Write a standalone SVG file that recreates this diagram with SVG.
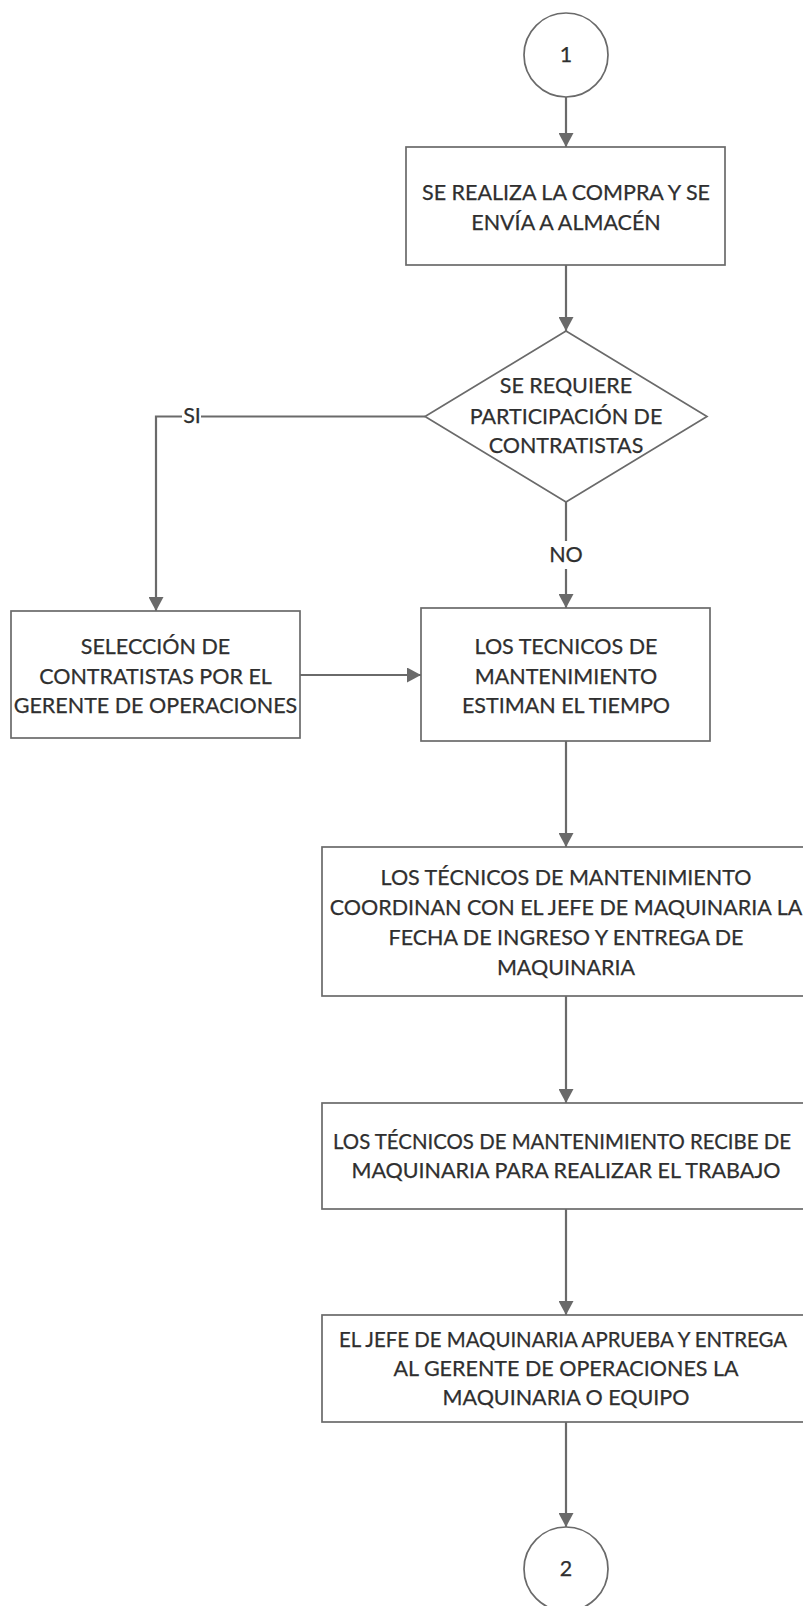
<svg xmlns="http://www.w3.org/2000/svg" width="803" height="1606" viewBox="0 0 803 1606">
  <defs>
    <marker id="arrow" viewBox="0 0 14 15" refX="14" refY="7.5" markerWidth="14" markerHeight="15" markerUnits="userSpaceOnUse" orient="auto">
      <path d="M0,0 L14,7.5 L0,15 Z" fill="#6a6a6a"/>
    </marker>
    <style>
      .shape { fill: #ffffff; stroke: #6a6a6a; stroke-width: 1.7; }
      .edge { fill: none; stroke: #6a6a6a; stroke-width: 2.2; marker-end: url(#arrow); }
      .txt { font-family: Lato, "Liberation Sans", sans-serif; font-size: 21.5px; fill: #2f2f2f; stroke: #2f2f2f; stroke-width: 0.25; text-anchor: middle; }
      .wide { font-size: 20.4px; }
      .lblbg { fill: #ffffff; stroke: none; }
    </style>
  </defs>
  <rect width="803" height="1606" fill="#ffffff"/>

  <!-- connectors -->
  <g id="connectors">
    <path class="edge" d="M566,97 V147"/>
    <path class="edge" d="M566,265 V331"/>
    <path class="edge" d="M425,416.5 H156 V611"/>
    <path class="edge" d="M566,502 V608"/>
    <path class="edge" d="M300,675 H421"/>
    <path class="edge" d="M566,741 V847"/>
    <path class="edge" d="M566,996 V1103"/>
    <path class="edge" d="M566,1209 V1315"/>
    <path class="edge" d="M566,1422 V1527"/>
    <rect class="lblbg" x="182" y="406" width="19" height="21"/>
    <text class="txt" x="192" y="423">SI</text>
    <rect class="lblbg" x="550" y="541" width="32" height="28"/>
    <text class="txt" x="566" y="562">NO</text>
  </g>

  <!-- start connector -->
  <g id="conn-start">
    <circle class="shape" cx="566" cy="55" r="42"/>
    <text class="txt" x="566" y="62">1</text>
  </g>

  <!-- purchase -->
  <g id="compra">
    <rect class="shape" x="406" y="147" width="319" height="118"/>
    <text class="txt" x="566" y="200">SE REALIZA LA COMPRA Y SE</text>
    <text class="txt" x="566" y="230">ENVÍA A ALMACÉN</text>
  </g>

  <!-- decision -->
  <g id="decision">
    <polygon class="shape" points="566,331 707,416.5 566,502 425,416.5"/>
    <text class="txt" x="566" y="393">SE REQUIERE</text>
    <text class="txt" x="566" y="424">PARTICIPACIÓN DE</text>
    <text class="txt" x="566" y="453">CONTRATISTAS</text>
  </g>

  <!-- contractor selection -->
  <g id="seleccion">
    <rect class="shape" x="11" y="611" width="289" height="127"/>
    <text class="txt" x="155.5" y="654">SELECCIÓN DE</text>
    <text class="txt" x="155.5" y="684">CONTRATISTAS POR EL</text>
    <text class="txt" x="155.5" y="713">GERENTE DE OPERACIONES</text>
  </g>

  <!-- time estimate -->
  <g id="estiman">
    <rect class="shape" x="421" y="608" width="289" height="133"/>
    <text class="txt" x="566" y="654">LOS TECNICOS DE</text>
    <text class="txt" x="566" y="684">MANTENIMIENTO</text>
    <text class="txt" x="566" y="713">ESTIMAN EL TIEMPO</text>
  </g>

  <!-- coordination -->
  <g id="coordinan">
    <rect class="shape" x="322" y="847" width="488" height="149"/>
    <text class="txt" x="566" y="885">LOS TÉCNICOS DE MANTENIMIENTO</text>
    <text class="txt" x="566" y="915">COORDINAN CON EL JEFE DE MAQUINARIA LA</text>
    <text class="txt" x="566" y="945">FECHA DE INGRESO Y ENTREGA DE</text>
    <text class="txt" x="566" y="975">MAQUINARIA</text>
  </g>

  <!-- reception -->
  <g id="recibe">
    <rect class="shape" x="322" y="1103" width="488" height="106"/>
    <text class="txt wide" x="562" y="1149">LOS TÉCNICOS DE MANTENIMIENTO RECIBE DE</text>
    <text class="txt" x="566" y="1178">MAQUINARIA PARA REALIZAR EL TRABAJO</text>
  </g>

  <!-- approval -->
  <g id="aprueba">
    <rect class="shape" x="322" y="1315" width="488" height="107"/>
    <text class="txt wide" x="563" y="1347">EL JEFE DE MAQUINARIA APRUEBA Y ENTREGA</text>
    <text class="txt" x="566" y="1376">AL GERENTE DE OPERACIONES LA</text>
    <text class="txt" x="566" y="1405">MAQUINARIA O EQUIPO</text>
  </g>

  <!-- end connector -->
  <g id="conn-end">
    <circle class="shape" cx="566" cy="1569" r="42"/>
    <text class="txt" x="566" y="1576">2</text>
  </g>
</svg>
